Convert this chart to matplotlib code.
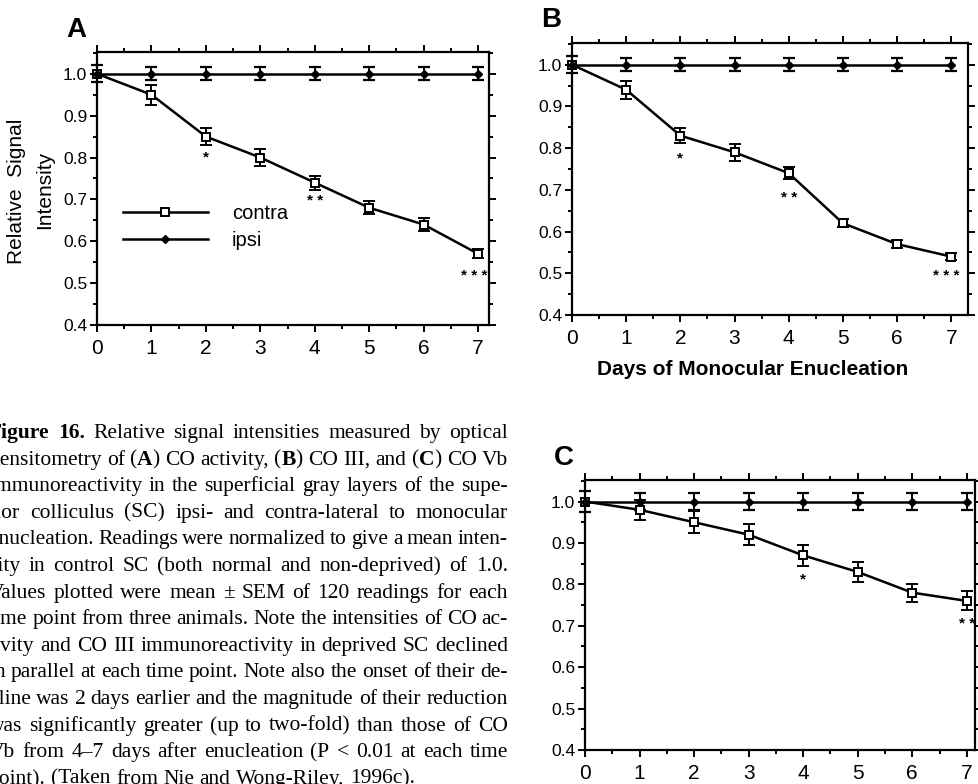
import matplotlib
matplotlib.use("Agg")
import matplotlib.pyplot as plt
from matplotlib.ticker import MultipleLocator, FixedLocator

W, H = 979, 784
fig = plt.figure(figsize=(W / 100, H / 100), dpi=100)

# ---------------- data ----------------
days = [0, 1, 2, 3, 4, 5, 6, 7]
x_ticks = [0, 1, 2, 3, 4, 5, 6, 7]
y_ticks = [0.4, 0.5, 0.6, 0.7, 0.8, 0.9, 1.0]
y_tick_labels = ["0.4", "0.5", "0.6", "0.7", "0.8", "0.9", "1.0"]

A_contra = [1.00, 0.95, 0.85, 0.80, 0.74, 0.68, 0.64, 0.57]
A_contra_err = [0.020, 0.024, 0.020, 0.020, 0.017, 0.015, 0.016, 0.011]
A_ipsi = [1.00, 1.00, 1.00, 1.00, 1.00, 1.00, 1.00, 1.00]
A_ipsi_err = [0.020, 0.016, 0.016, 0.016, 0.016, 0.016, 0.016, 0.016]
A_stars = [("*", 2, 0.81), ("* *", 4, 0.705), ("* * *", 6.92, 0.527)]

B_contra = [1.00, 0.94, 0.83, 0.79, 0.74, 0.62, 0.57, 0.54]
B_contra_err = [0.020, 0.022, 0.018, 0.020, 0.014, 0.010, 0.010, 0.008]
B_ipsi = [1.00, 1.00, 1.00, 1.00, 1.00, 1.00, 1.00, 1.00]
B_ipsi_err = [0.020, 0.015, 0.015, 0.015, 0.015, 0.015, 0.015, 0.015]
B_stars = [("*", 2, 0.785), ("* *", 4, 0.69), ("* * *", 6.9, 0.503)]

C_contra = [1.00, 0.98, 0.95, 0.92, 0.87, 0.83, 0.78, 0.76]
C_contra_err = [0.025, 0.024, 0.026, 0.026, 0.026, 0.024, 0.022, 0.023]
C_ipsi = [1.00, 1.00, 1.00, 1.00, 1.00, 1.00, 1.00, 1.00]
C_ipsi_err = [0.025, 0.020, 0.020, 0.020, 0.020, 0.020, 0.020, 0.020]
C_stars = [("*", 4, 0.823), ("* *", 7, 0.714)]

series_labels = ["contra", "ipsi"]
x_label = "Days of Monocular Enucleation"
y_label_lines = ["Relative  Signal", "Intensity"]

caption_lines = [
    "|Figure| |16.| Relative signal intensities measured by optical",
    "densitometry of (|A|) CO activity, (|B|) CO III, and (|C|) CO Vb",
    "immunoreactivity in the superficial gray layers of the supe-",
    "rior colliculus (SC) ipsi- and contra-lateral to monocular",
    "enucleation. Readings were normalized to give a mean inten-",
    "sity in control SC (both normal and non-deprived) of 1.0.",
    "Values plotted were mean \u00b1 SEM of 120 readings for each",
    "time point from three animals. Note the intensities of CO ac-",
    "tivity and CO III immunoreactivity in deprived SC declined",
    "in parallel at each time point. Note also the onset of their de-",
    "cline was 2 days earlier and the magnitude of their reduction",
    "was significantly greater (up to two-fold) than those of CO",
    "Vb from 4\u20137 days after enucleation (P < 0.01 at each time",
    "point). (Taken from Nie and Wong-Riley, 1996c).",
]

SANS = ["Liberation Sans", "DejaVu Sans"]
SERIF = ["Liberation Serif", "DejaVu Serif"]


def px_rect(left, top, right, bottom):
    return [left / W, 1 - bottom / H, (right - left) / W, (bottom - top) / H]


def make_panel(rect, xmax, contra, contra_err, ipsi, ipsi_err, stars, letter, letter_xy):
    ax = fig.add_axes(px_rect(*rect))
    ax.set_xlim(0, xmax)
    ax.set_ylim(0.4, 1.052)
    for sp in ax.spines.values():
        sp.set_linewidth(1.6)
    ax.xaxis.set_major_locator(FixedLocator(x_ticks))
    ax.xaxis.set_minor_locator(MultipleLocator(0.5))
    ax.yaxis.set_major_locator(FixedLocator(y_ticks))
    ax.yaxis.set_minor_locator(MultipleLocator(0.05))
    ax.set_yticklabels(y_tick_labels)
    ax.tick_params(which="both", direction="out", top=True, right=True, width=1.4)
    ax.tick_params(which="major", length=5)
    ax.tick_params(which="minor", length=3)
    ax.tick_params(axis="x", labelsize=15, pad=5)
    ax.tick_params(axis="y", labelsize=12.5, pad=2)
    for lab in ax.get_xticklabels() + ax.get_yticklabels():
        lab.set_family(SANS)

    eb1 = ax.errorbar(days, contra, yerr=contra_err, color="black", lw=1.8,
                      marker="s", ms=5.5, mfc="white", mec="black", mew=1.4,
                      capsize=4.5, capthick=1.6, elinewidth=1.4,
                      zorder=3, clip_on=False)
    eb2 = ax.errorbar(days, ipsi, yerr=ipsi_err, color="black", lw=1.8,
                      marker="D", ms=4.5, mfc="black", mec="black",
                      capsize=4.5, capthick=1.6, elinewidth=1.4,
                      zorder=3, clip_on=False)
    for s, xs, ys in stars:
        ax.annotate(s, (xs, ys), xytext=(0, -3), textcoords="offset points",
                    ha="center", va="center", fontsize=11,
                    fontweight="bold", family=SANS)
    fig.text(letter_xy[0] / W, 1 - letter_xy[1] / H, letter, fontsize=20,
             fontweight="bold", family=SANS, ha="left", va="baseline")
    return ax, eb1.lines[0], eb2.lines[0]


axA, hA1, hA2 = make_panel((97, 52, 489, 325), 7.2, A_contra, A_contra_err, A_ipsi,
                           A_ipsi_err, A_stars, "A", (66, 37))
axB, _, _ = make_panel((572, 43, 968, 315), 7.31, B_contra, B_contra_err, B_ipsi,
                       B_ipsi_err, B_stars, "B", (541, 27))
axC, _, _ = make_panel((585, 480, 975, 750), 7.15, C_contra, C_contra_err, C_ipsi,
                       C_ipsi_err, C_stars, "C", (554, 465))

# legend in panel A
axA.legend([hA1, hA2], series_labels, loc="upper left",
           bbox_to_anchor=(123 / W, 1 - 204 / H),
           bbox_transform=fig.transFigure, frameon=False,
           handlelength=4.2, handletextpad=1.2, labelspacing=0.4,
           borderpad=0, borderaxespad=0,
           prop={"family": SANS, "size": 14.5})

# y label for panel A
fig.text(17 / W, 1 - 191 / H, y_label_lines[0], rotation=90, fontsize=15,
         family=SANS, ha="center", va="center")
fig.text(45 / W, 1 - 190 / H, y_label_lines[1], rotation=90, fontsize=15,
         family=SANS, ha="center", va="center")

# x label for panel B
fig.text(753 / W, 1 - 370 / H, x_label, fontsize=15, fontweight="bold",
         family=SANS, ha="center", va="center")

# ---------------- caption (justified) ----------------
renderer = fig.canvas.get_renderer()
cap_size = 15.5
left_px, right_px = -11.0, 508.0
base0, step = 438.0, 26.6


def parse_word(word):
    parts = word.split("|")
    segs = []
    for i, p in enumerate(parts):
        if p:
            segs.append((p, "bold" if i % 2 == 1 else "normal"))
    return segs


def seg_width(text, weight):
    t = fig.text(0, 0, text, fontsize=cap_size, family=SERIF, fontweight=weight)
    w = t.get_window_extent(renderer).width
    t.remove()
    return w


space_w = seg_width("a a", "normal") - seg_width("aa", "normal")

for i, line in enumerate(caption_lines):
    words = [parse_word(w) for w in line.split(" ")]
    widths = [[seg_width(s, wt) for s, wt in segs] for segs in words]
    word_w = [sum(ws) for ws in widths]
    total = sum(word_w)
    last = i == len(caption_lines) - 1
    if last or len(words) < 2:
        gap = space_w
    else:
        gap = (right_px - left_px - total) / (len(words) - 1)
    x = left_px
    y = base0 + i * step
    for segs, ws in zip(words, widths):
        for (s, wt), sw in zip(segs, ws):
            fig.text(x / W, 1 - y / H, s, fontsize=cap_size, family=SERIF,
                     fontweight=wt, ha="left", va="baseline")
            x += sw
        x += gap

fig.savefig("out.png", dpi=100)
